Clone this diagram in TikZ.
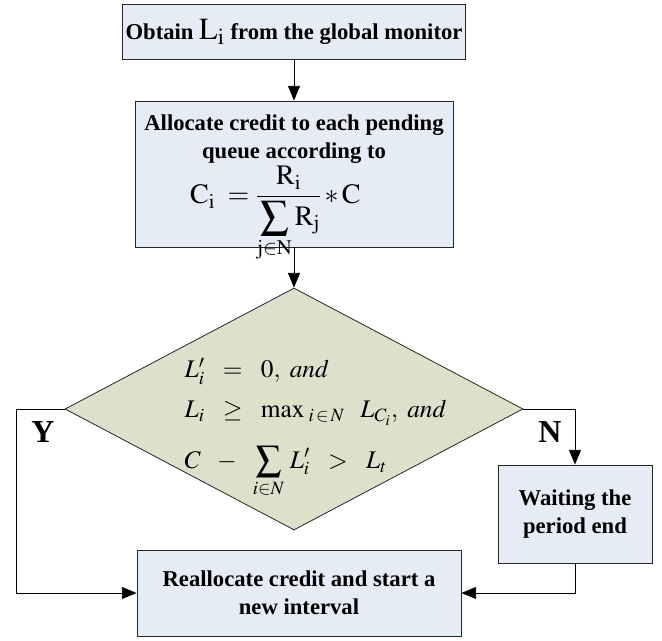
\documentclass[tikz,border=0pt]{standalone}
\usepackage{amsmath}
\usepackage{mathptmx}
\usepackage{fontspec}
\setmainfont{Liberation Serif}
\usetikzlibrary{arrows.meta,shapes.geometric,positioning,calc}
\definecolor{boxblue}{RGB}{230,236,246}
\definecolor{condgreen}{RGB}{221,225,203}

\begin{document}
\begin{tikzpicture}[x=0.75pt, y=-0.75pt,
    box/.style={draw=black!85, line width=0.7pt, fill=boxblue, align=center, font=\fontsize{17}{21}\selectfont\bfseries, inner sep=2pt},
    cond/.style={diamond, draw=black!85, line width=0.6pt, fill=condgreen, minimum width=343.5pt, minimum height=181.5pt, inner sep=0pt},
    arr/.style={-{Triangle[length=11pt,width=9pt]}, line width=0.6pt},
    lbl/.style={font=\fontsize{24}{24}\selectfont\bfseries}
]
\useasboundingbox (0,0) rectangle (662,641);

\node[box, minimum width=238.5pt, minimum height=41.25pt] (obtain) at (294,32)
    {Obtain {\fontsize{23}{23}\selectfont$\mathrm{L}_{\mathrm{i}}$} from the global monitor};
\node[box, minimum width=238.5pt, minimum height=109.5pt] (alloc) at (294,174) {};
\node[align=center, font=\fontsize{17}{21}\selectfont\bfseries, anchor=north] (alloctxt) at (294,110)
    {Allocate credit to each pending\\queue according to\\[1pt]
     {\fontsize{21}{24}\selectfont$\mathrm{C}_{\mathrm{i}}\;=\dfrac{\mathrm{R}_{\mathrm{i}}}{\displaystyle\sum_{\mathrm{j}\in\mathrm{N}}\mathrm{R}_{\mathrm{j}}}\,{*}\,\mathrm{C}$\hspace*{28pt}}};
\node[cond] (cond) at (294,409) {};
\node[anchor=west, align=left, font=\fontsize{19}{23}\selectfont] (condtxt) at (180,428)
    {$L'_{i}\enspace=\enspace 0,\ \mathit{and}$\\[7pt]
     $L_{i}\enspace\geq\enspace\max\nolimits_{\;i\,\in\,N}\enspace L_{C_{i}},\ \mathit{and}$\\[15pt]
     $C\enspace-\enspace\displaystyle\sum_{i\in N}\, L'_{i}\enspace>\enspace L_{t}$};
\node[box, minimum width=115.5pt, minimum height=73.5pt] (wait) at (575,514) {Waiting the\\period end};
\node[box, minimum width=243pt, minimum height=64.5pt] (realloc) at (299,593) {Reallocate credit and start a\\new interval};

\coordinate (yleft) at (16,409);
\node[lbl] (ylab) at (43,432) {Y};
\node[lbl] (nlab) at (550,432) {N};

\draw[arr] (obtain) -- (alloc);
\draw[arr] (alloc.south) -- (cond.north);
\draw[arr] (cond.west) -- (yleft) |- (realloc.west);
\draw[arr] (cond.east) -| (wait.north);
\draw[arr] (wait.south) |- (realloc.east);
\end{tikzpicture}
\end{document}
